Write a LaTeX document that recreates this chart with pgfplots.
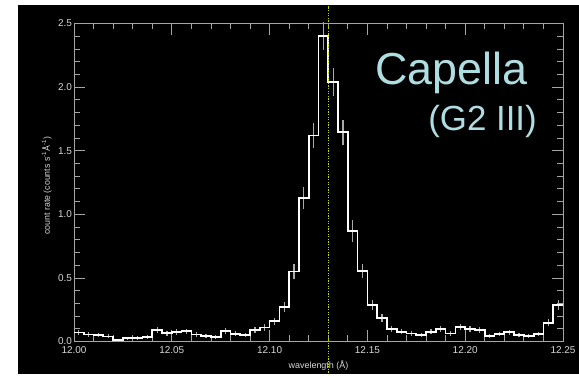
\documentclass[border=0pt]{standalone}
\usepackage{pgfplots}
\pgfplotsset{compat=1.18}
\usepackage{pgfplotstable}
\usepackage{fontspec}
\setmainfont{Liberation Sans}
\definecolor{capcol}{RGB}{175,222,226}
\definecolor{axcol}{RGB}{165,165,165}
\definecolor{lblcol}{RGB}{215,215,215}
\definecolor{vgreen}{RGB}{190,215,0}
\definecolor{errcol}{RGB}{170,170,170}

\pgfplotstableread{
x y
12.000 0.070
12.005 0.055
12.010 0.050
12.015 0.040
12.020 0.010
12.025 0.025
12.030 0.030
12.035 0.035
12.040 0.090
12.045 0.065
12.050 0.075
12.055 0.080
12.060 0.055
12.065 0.043
12.070 0.033
12.075 0.082
12.080 0.061
12.085 0.051
12.090 0.090
12.095 0.110
12.100 0.160
12.105 0.270
12.110 0.550
12.115 1.130
12.120 1.620
12.125 2.400
12.130 2.040
12.135 1.645
12.140 0.870
12.145 0.555
12.150 0.285
12.155 0.187
12.160 0.096
12.165 0.077
12.170 0.064
12.175 0.051
12.180 0.077
12.185 0.096
12.190 0.064
12.195 0.116
12.200 0.100
12.205 0.090
12.210 0.043
12.215 0.059
12.220 0.072
12.225 0.051
12.230 0.043
12.235 0.059
12.240 0.148
12.245 0.287
12.250 0.287
}\histdata

\pgfplotstableread{
x y e
12.0025 0.070 0.020
12.0075 0.055 0.018
12.0125 0.050 0.018
12.0175 0.040 0.016
12.0225 0.010 0.012
12.0275 0.025 0.014
12.0325 0.030 0.015
12.0375 0.035 0.016
12.0425 0.090 0.022
12.0475 0.065 0.019
12.0525 0.075 0.020
12.0575 0.080 0.021
12.0625 0.055 0.018
12.0675 0.043 0.016
12.0725 0.033 0.015
12.0775 0.082 0.021
12.0825 0.061 0.018
12.0875 0.051 0.017
12.0925 0.090 0.022
12.0975 0.110 0.024
12.1025 0.160 0.028
12.1075 0.270 0.038
12.1125 0.550 0.058
12.1175 1.130 0.085
12.1225 1.620 0.100
12.1275 2.400 0.110
12.1325 2.040 0.110
12.1375 1.645 0.098
12.1425 0.870 0.086
12.1475 0.555 0.058
12.1525 0.285 0.040
12.1575 0.187 0.031
12.1625 0.096 0.022
12.1675 0.077 0.020
12.1725 0.064 0.019
12.1775 0.051 0.017
12.1825 0.077 0.020
12.1875 0.096 0.022
12.1925 0.064 0.019
12.1975 0.116 0.024
12.2025 0.100 0.022
12.2075 0.090 0.022
12.2125 0.043 0.016
12.2175 0.059 0.018
12.2225 0.072 0.020
12.2275 0.051 0.017
12.2325 0.043 0.016
12.2375 0.059 0.018
12.2425 0.148 0.027
12.2475 0.287 0.040
}\errdata

\begin{document}
\begin{tikzpicture}
\fill[white] (0,0) rectangle (579bp,378bp);
\fill[black] (18bp,4bp) rectangle (579bp,373bp);
\begin{axis}[
  at={(74bp,36.5bp)}, anchor=south west,
  scale only axis, width=489bp, height=318bp,
  xmin=12, xmax=12.25, ymin=0, ymax=2.5,
  clip=false,
  xtick={12,12.05,12.1,12.15,12.2,12.25},
  xticklabels={12.00,12.05,12.10,12.15,12.20,12.25},
  ytick={0,0.5,1,1.5,2,2.5},
  yticklabels={0.0,0.5,1.0,1.5,2.0,2.5},
  minor x tick num=4, minor y tick num=4,
  major tick length=11bp, minor tick length=6bp,
  tick align=inside,
  axis line style={draw=axcol, line width=1bp},
  tick style={draw=axcol, line width=0.8bp},
  ticklabel style={font=\fontsize{10}{12}\selectfont, text=lblcol},
  xticklabel style={inner sep=0pt, yshift=-5bp},
  yticklabel style={inner sep=1.8bp},
  xlabel={wavelength (Å)},
  ylabel={count rate (counts s\textsuperscript{-1}Å\textsuperscript{-1})},
  xlabel style={font=\fontsize{9}{11}\selectfont, text=lblcol, at={(axis description cs:0.5,-0.0755)}, anchor=center},
  ylabel style={font=\fontsize{8.8}{10}\selectfont, text=lblcol, at={(axis description cs:-0.0558,0.49)}, anchor=center},
]
\addplot[draw=none, mark=none, forget plot,
  error bars/.cd, y dir=both, y explicit,
  error mark=none, error bar style={draw=errcol, line width=1.2bp, solid}]
  table[x=x, y=y, y error=e] {\errdata};
\addplot[const plot, white, line width=1.7bp, mark=none] table[x=x, y=y] {\histdata};
\draw[vgreen, line width=1.3bp, dash pattern=on 1.3bp off 1.3bp] (axis cs:12.130,-0.245) -- (axis cs:12.130,2.64);
\end{axis}
\node[anchor=base west, inner sep=0pt, text=capcol, font=\fontsize{45}{45}\selectfont] at (375bp,293bp) {Capella};
\node[anchor=base east, inner sep=0pt, text=capcol, font=\fontsize{35}{35}\selectfont] at (537bp,247.5bp) {(G2 III)};
\end{tikzpicture}
\end{document}
